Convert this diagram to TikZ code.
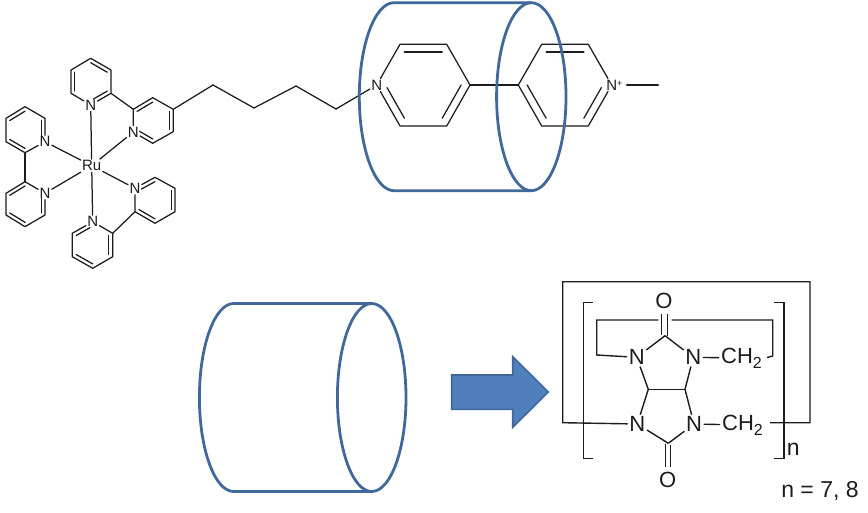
\documentclass[tikz,border=0pt]{standalone}
\usepackage{fontspec}
\setmainfont{Liberation Sans}
\usetikzlibrary{calc}
\definecolor{cylblue}{HTML}{41689A}
\definecolor{arrowfill}{HTML}{4F7FBC}
\definecolor{arrowline}{HTML}{3F6797}
\definecolor{ink}{HTML}{1C1C1C}
\tikzset{
  bond/.style={draw=ink,line width=1.25pt,line cap=round,line join=round},
  cagebond/.style={draw=ink,line width=1.4pt,line join=miter},
  atom/.style={inner sep=1.2pt,text=ink,font=\fontsize{15}{15}\selectfont},
  bigatom/.style={inner sep=1.5pt,text=ink,font=\fontsize{22}{22}\selectfont},
  labeltext/.style={inner sep=1.5pt,text=ink,font=\fontsize{23}{23}\selectfont},
  cyl/.style={draw=cylblue,line width=2.8pt,line join=round},
}
\newcommand{\Ring}[6]{\draw[bond] (#1)--(#2) (#2)--(#3) (#3)--(#4) (#4)--(#5) (#5)--(#6) (#6)--(#1);}
\newcommand{\Dbl}[4][]{\draw[bond,#1] ($(#2)!.19!(#4)$) -- ($(#3)!.19!(#4)$);}
\newcommand{\CHtwo}{CH\raisebox{-5pt}{\fontsize{16}{16}\selectfont 2}}
\begin{document}
\begin{tikzpicture}[x=1pt,y=-1pt]
\useasboundingbox (0,0) rectangle (868,512);
% ---------- Ru complex
\node[atom] (ru) at (91.7,165.7) {Ru};
% ring A
\coordinate (a1) at (90.7,58.3); \coordinate (a2) at (111,70); \coordinate (a3) at (111,93.3);
\node[atom] (a4) at (90.7,105) {N}; \coordinate (a5) at (71,93.3); \coordinate (a6) at (71,70);
\coordinate (aC) at (91,81.7);
\Ring{a1}{a2}{a3}{a4}{a5}{a6}
\Dbl{a1}{a2}{aC} \Dbl[shorten <=3pt]{a4}{a3}{aC} \Dbl{a5}{a6}{aC}
% ring B
\coordinate (b1) at (133.3,109.3); \coordinate (b2) at (152.7,97.7); \coordinate (b3) at (173.3,109.3);
\coordinate (b4) at (173.3,131.7); \coordinate (b5) at (152.7,143.3); \node[atom] (b6) at (133.3,132) {N};
\coordinate (bC) at (153,120.5);
\Ring{b1}{b2}{b3}{b4}{b5}{b6}
\Dbl{b1}{b2}{bC} \Dbl{b3}{b4}{bC} \Dbl[shorten >=3pt]{b5}{b6}{bC}
\draw[bond] (a3) -- (b1);
% chain
\coordinate (ch1) at (213,85); \coordinate (ch2) at (254,108); \coordinate (ch3) at (296,86); \coordinate (ch4) at (336,109);
% ring C
\coordinate (c1) at (25,106.7); \coordinate (c2) at (45,118.3); \node[atom] (c3) at (45,141.7) {N};
\coordinate (c4) at (25,152.7); \coordinate (c5) at (6,141.7); \coordinate (c6) at (6,118.3);
\coordinate (cC) at (25.5,130);
\Ring{c1}{c2}{c3}{c4}{c5}{c6}
\Dbl{c6}{c1}{cC} \Dbl[shorten >=3pt]{c2}{c3}{cC} \Dbl{c4}{c5}{cC}
% ring D
\coordinate (d1) at (25,181.7); \node[atom] (d2) at (45,193.3) {N}; \coordinate (d3) at (45,215);
\coordinate (d4) at (25,226.7); \coordinate (d5) at (6,215); \coordinate (d6) at (6,193.3);
\coordinate (dC) at (25.5,204);
\Ring{d1}{d2}{d3}{d4}{d5}{d6}
\Dbl{d6}{d1}{dC} \Dbl[shorten <=3pt]{d2}{d3}{dC} \Dbl{d4}{d5}{dC}
\draw[bond] (c4) -- (d1);
% ring E
\node[atom] (e1) at (135,188.3) {N}; \coordinate (e2) at (155,177.3); \coordinate (e3) at (175,188.3);
\coordinate (e4) at (175,211.7); \coordinate (e5) at (155,223.3); \coordinate (e6) at (135,211.7);
\coordinate (eC) at (155,200);
\Ring{e1}{e2}{e3}{e4}{e5}{e6}
\Dbl[shorten <=3pt]{e1}{e2}{eC} \Dbl{e3}{e4}{eC} \Dbl{e5}{e6}{eC}
% ring F
\node[atom] (f1) at (92.7,221.7) {N}; \coordinate (f2) at (112.7,233.3); \coordinate (f3) at (112.7,256.7);
\coordinate (f4) at (92.7,268.3); \coordinate (f5) at (72.3,256.7); \coordinate (f6) at (72.3,233.3);
\coordinate (fC) at (92.5,245);
\Ring{f1}{f2}{f3}{f4}{f5}{f6}
\Dbl[shorten >=3pt]{f6}{f1}{fC} \Dbl{f2}{f3}{fC} \Dbl{f4}{f5}{fC}
\draw[bond] (e6) -- (f2);
% Ru bonds
\draw[bond] (ru) -- (a4);
\draw[bond] (ru) -- (b6);
\draw[bond] (ru) -- (c3);
\draw[bond] (ru) -- (d2);
\draw[bond] (ru) -- (e1);
\draw[bond] (ru) -- (f1);
% ---------- viologen
\node[atom] (g1) at (376.7,85) {N}; \coordinate (g2) at (400,44.3); \coordinate (g3) at (446.7,44.3);
\coordinate (g4) at (470,85); \coordinate (g5) at (446.7,126); \coordinate (g6) at (400,126);
\coordinate (gC) at (423.3,85);
\Ring{g1}{g2}{g3}{g4}{g5}{g6}
\Dbl{g2}{g3}{gC} \Dbl{g4}{g5}{gC} \Dbl[shorten >=3pt]{g6}{g1}{gC}
\coordinate (h1) at (518.3,85); \coordinate (h2) at (541.7,44.3); \coordinate (h3) at (588.3,44.3);
\node[atom] (h4) at (611.7,85) {N\rlap{\raisebox{4pt}{\fontsize{9}{9}\selectfont +}}}; \coordinate (h5) at (588.3,126); \coordinate (h6) at (541.7,126);
\coordinate (hC) at (565,85);
\Ring{h1}{h2}{h3}{h4}{h5}{h6}
\Dbl{h2}{h3}{hC} \Dbl{h1}{h6}{hC} \Dbl[shorten >=3pt]{h5}{h4}{hC}
\draw[bond] (g4) -- (h1);
\coordinate (me0) at (626.7,85); \coordinate (me1) at (658.3,85);
\draw[bond] (me0) -- (me1);
\draw[bond] (b3) -- (ch1);
\draw[bond] (ch1) -- (ch2);
\draw[bond] (ch2) -- (ch3);
\draw[bond] (ch3) -- (ch4);
\draw[bond] (ch4) -- (g1);
% ---------- cylinders
\coordinate (t0) at (531.3,2.7);
\coordinate (t1) at (531.3,190.7);
\draw[cyl] (t0) -- (394,2.7) arc[start angle=270,end angle=90,x radius=34.7,y radius=94] -- (t1);
\draw[cyl] (531.3,96.7) ellipse[x radius=34.7,y radius=94];
\coordinate (u0) at (371.7,303.5);
\coordinate (u1) at (371.7,491.5);
\draw[cyl] (u0) -- (233.7,303.5) arc[start angle=270,end angle=90,x radius=34.3,y radius=94] -- (u1);
\draw[cyl] (371.7,397.5) ellipse[x radius=34.3,y radius=94];
% ---------- block arrow
\draw[draw=arrowline,fill=arrowfill,line width=1.6pt,line join=miter]
  (451.7,375) -- (512.7,375) -- (512.7,356.7) -- (548.3,392) -- (512.7,427.3) -- (512.7,409.3) -- (451.7,409.3) -- cycle;
% ---------- cucurbituril unit
\node[bigatom] (n1) at (636.7,357.3) {N};
\node[bigatom] (n2) at (693.3,357.3) {N};
\node[bigatom] (n3) at (637.3,424) {N};
\node[bigatom] (n4) at (694,424) {N};
\node[bigatom] (o1) at (664,300.7) {O};
\node[bigatom] (o2) at (667.7,480) {O};
\node[bigatom,inner sep=2pt,anchor=west] (ch2a) at (719,358) {\CHtwo};
\node[bigatom,inner sep=2pt,anchor=west] (ch2b) at (720,425) {\CHtwo};
\coordinate (k1) at (665,335.7);
\coordinate (k2) at (668.3,443.3);
\coordinate (m1) at (648.3,389.3);
\coordinate (m2) at (685,389.3);
\draw[cagebond] (n1) -- (k1);
\draw[cagebond] (k1) -- (n2);
\draw[cagebond] (n1) -- (m1);
\draw[cagebond] (m1) -- (m2);
\draw[cagebond] (m2) -- (n2);
\draw[cagebond] (n3) -- (m1);
\draw[cagebond] (m2) -- (n4);
\draw[cagebond] (n3) -- (k2);
\draw[cagebond] (k2) -- (n4);
\draw[cagebond] (n2) -- (ch2a);
\draw[cagebond] (n4) -- (ch2b);
\draw[cagebond] (661.7,313.5) -- (661.7,334.5);
\draw[cagebond] (667.3,313.5) -- (667.3,336);
\draw[cagebond] (665.2,444) -- (665.2,467);
\draw[cagebond] (670.7,445) -- (670.7,467);
% inner loop
\coordinate (l1) at (596.7,355); \coordinate (l2) at (596.7,320); \coordinate (l3) at (658.3,320);
\coordinate (l4) at (671.7,320); \coordinate (l5) at (772.7,320); \coordinate (l6) at (772.7,356); \coordinate (l7) at (767,357.5);
\draw[cagebond] (n1) -- (l1) -- (l2) -- (l3);
\draw[cagebond] (l4) -- (l5) -- (l6) -- (l7);
% outer frame
\coordinate (q1) at (562.7,422.7); \coordinate (q2) at (562.7,281.7); \coordinate (q3) at (810,281.7);
\coordinate (q4) at (810,422.7); \coordinate (q5) at (770,422.7);
\draw[cagebond] (n3) -- (q1) -- (q2) -- (q3) -- (q4) -- (q5);
% brackets
\draw[cagebond] (593.3,302.7) -- (583.3,302.7) -- (583.3,458.3) -- (593.3,458.3);
\draw[cagebond] (774,302.7) -- (784,302.7) -- (784,458.3) -- (774,458.3);
\node[labeltext] (nsub) at (793.3,449) {n};
\node[labeltext] (nval) at (820,491) {n = 7, 8};
\end{tikzpicture}
\end{document}
